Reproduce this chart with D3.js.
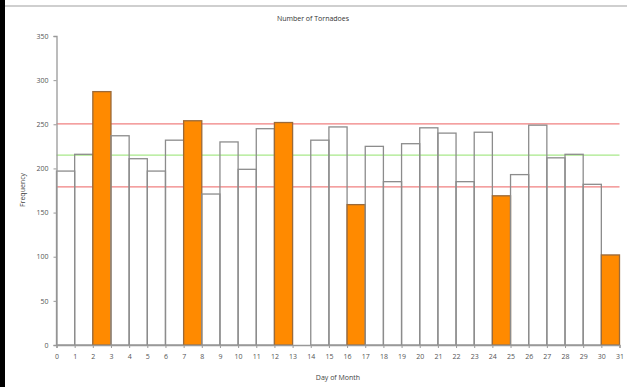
<!DOCTYPE html>
<html><head><meta charset="utf-8">
<script src="https://cdn.jsdelivr.net/npm/d3@7"></script>
<style>body{margin:0;background:#fff;} svg{display:block;}</style>
</head><body>
<svg id="c" width="627" height="387"></svg>
<script>
// Data
const days = d3.range(0, 31); // bar i spans [i, i+1]
const counts = [197,216,287,237,211,197,232,254,171,230,199,245,252,null,232,247,159,225,185,228,246,240,185,241,169,193,249,212,216,182,102];
const highlighted = [2,7,12,16,24,30];
const meanLine = 215;
const upperLine = 250.5;
const lowerLine = 179;
const yTicks = [0,50,100,150,200,250,300,350];
const xTicks = d3.range(0, 32);
const title = "Number of Tornadoes";
const xTitle = "Day of Month";
const yTitle = "Frequency";

const svg = d3.select("#c");
const L = 56.5, R = 619.5, T = 36, B = 345;
const x = d3.scaleLinear().domain([0,31]).range([L,R]);
const y = d3.scaleLinear().domain([0,350]).range([B,T]);
const font = "'Open Sans', 'Liberation Sans', sans-serif";

// frame
svg.append("rect").attr("x",0).attr("y",0).attr("width",5).attr("height",387).attr("fill","#000");
svg.append("rect").attr("x",5).attr("y",5).attr("width",622).attr("height",2).attr("fill","#cfcfcf");

svg.append("text").attr("x",313).attr("y",21).attr("text-anchor","middle")
  .attr("font-family",font).attr("font-size",7).attr("fill","#333").text(title);

// reference lines (behind bars)
[[upperLine,"#f08080"],[meanLine,"#a8e88a"],[lowerLine,"#f08080"]].forEach(([v,c])=>{
  svg.append("line").attr("x1",L).attr("x2",R).attr("y1",y(v)).attr("y2",y(v))
    .attr("stroke",c).attr("stroke-width",1.3);
});

// bars
svg.append("g").selectAll("rect").data(days.filter(i=>counts[i]!=null)).join("rect")
  .attr("x", i=>x(i)).attr("width", i=>x(i+1)-x(i))
  .attr("y", i=>y(counts[i])).attr("height", i=>y(0)-y(counts[i]))
  .attr("fill", i=>highlighted.includes(i)?"#ff8a00":"none")
  .attr("stroke", i=>highlighted.includes(i)?"#9a6a3a":"#8c8c8c")
  .attr("stroke-width",1.3);

// y axis
const ya = svg.append("g").attr("transform",`translate(${L},0)`)
  .call(d3.axisLeft(y).tickValues(yTicks).tickSize(3).tickPadding(5));
ya.select(".domain").attr("stroke","#999").attr("stroke-width",1.3);
ya.selectAll(".tick line").attr("stroke","#999");
ya.selectAll("text").attr("font-family",font).attr("font-size",7).attr("fill","#555");

// x axis
const xa = svg.append("g").attr("transform",`translate(0,${B})`)
  .call(d3.axisBottom(x).tickValues(xTicks).tickSize(3).tickPadding(6));
xa.select(".domain").attr("stroke","#999").attr("stroke-width",1.3);
xa.selectAll(".tick line").attr("stroke","#999");
xa.selectAll("text").attr("font-family",font).attr("font-size",7).attr("fill","#555");

svg.append("text").attr("x",(L+R)/2).attr("y",380).attr("text-anchor","middle")
  .attr("font-family",font).attr("font-size",7).attr("fill","#444").text(xTitle);
svg.append("text").attr("transform","translate(25,190) rotate(-90)").attr("text-anchor","middle")
  .attr("font-family",font).attr("font-size",7).attr("fill","#444").text(yTitle);
</script>
</body></html>
